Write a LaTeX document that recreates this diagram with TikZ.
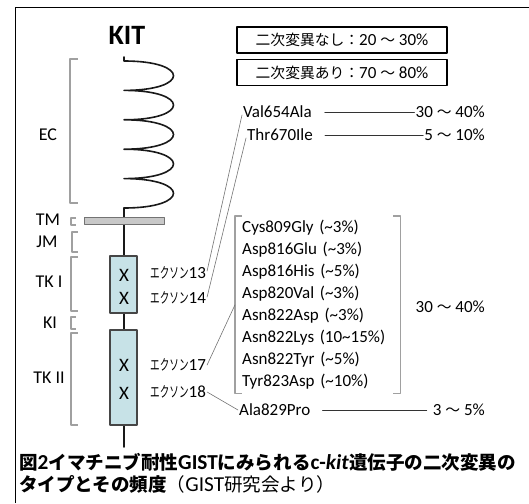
\documentclass[tikz,border=0pt]{standalone}
\usepackage{fontspec}
\setmainfont{Carlito}
\newfontfamily\jp{Noto Sans CJK JP}[Scale=0.87]
\usepackage{tikz}
\usetikzlibrary{positioning}
\definecolor{tk_blue}{RGB}{199,226,231}
\definecolor{tk_edge}{RGB}{70,70,70}
\definecolor{tm_gray}{RGB}{200,200,200}
\definecolor{bracket_gray}{RGB}{160,160,160}
\definecolor{lead_gray}{RGB}{115,115,115}
\newcommand{\wave}{{\jp ～}}
\newcommand{\exon}[1]{{\jp\scalebox{0.65}[1]{エクソン}}#1}
\tikzset{my_figure/.style={x=1pt,y=-1pt,line join=round,line cap=round}}
\tikzset{my_chain/.style={draw=black!90,line width=1.6pt}}
\tikzset{my_label/.style={inner sep=1pt,font=\fontsize{17}{19}\selectfont}}
\tikzset{my_side/.style={inner sep=1pt,font=\fontsize{18}{19}\selectfont}}
\tikzset{my_domain/.style={draw=tk_edge,fill=tk_blue,line width=1.1pt,minimum width=27pt,inner sep=0pt}}
\tikzset{my_cross/.style={inner sep=0pt,font=\fontsize{19}{19}\selectfont}}
\tikzset{my_bracket/.style={draw=bracket_gray,line width=1.1pt,line cap=butt}}
\tikzset{my_lead/.style={draw=lead_gray,line width=0.6pt}}
\tikzset{my_rule/.style={draw=black!80,line width=0.9pt}}
\tikzset{my_total/.style={draw,line width=1.7pt,minimum width=210pt,minimum height=26pt,inner sep=2pt,font=\fontsize{17}{18}\selectfont}}

\begin{document}
\begin{tikzpicture}[my_figure]
    \useasboundingbox (0,0) rectangle (529,503);
    % frame
    \draw[line width=1.6pt,line cap=butt] (15.5,503) -- (15.5,7.5) -- (529,7.5);

    \node[font=\fontsize{28}{28}\selectfont\bfseries] (kit) at (127,35) {KIT};

    % receptor chain: coil, then straight tail
    \coordinate (coil_top) at (124,57);
    \coordinate (neck) at (124,208);
    \coordinate (tail) at (124,447);
    \draw[my_chain] (coil_top) -- (124,61)
        .. controls (190,61) and (190,90.4) .. (124,90.4)
        .. controls (190,90.4) and (190,119.8) .. (124,119.8)
        .. controls (190,119.8) and (190,149.2) .. (124,149.2)
        .. controls (190,149.2) and (190,178.6) .. (124,178.6)
        .. controls (190,178.6) and (190,208) .. (neck);
    \draw[my_chain] (neck) -- (tail);

    \node[draw=black!55,fill=tm_gray,line width=0.8pt,minimum width=80pt,minimum height=7pt,inner sep=0pt] (tm_bar) at (124.5,221) {};
    \node[my_domain,minimum height=57pt] (tk1) at (123.5,284.5) {};
    \node[my_domain,minimum height=95pt] (tk2) at (123.5,377.5) {};
    \node[my_cross] (x1) at (124,275) {X};
    \node[my_cross] (x2) at (124,298) {X};
    \node[my_cross] (x3) at (124,365) {X};
    \node[my_cross] (x4) at (124,393) {X};

    % domain names and brackets
    \node[my_side] (ec) at (48,135) {EC};
    \node[my_side] (tm) at (48,220) {TM};
    \node[my_side] (jm) at (47,242) {JM};
    \node[my_side] (tk1_lbl) at (49,282) {TK I};
    \node[my_side] (ki) at (50,323) {KI};
    \node[my_side] (tk2_lbl) at (49,378) {TK II};
    \path[my_bracket]
        (78,59) -| (70,203) -- (78,203)
        (76,218) -| (71,225) -- (76,225)
        (78,232) -| (72,252) -- (78,252)
        (78,257) -| (71,311) -- (78,311)
        (76,317) -| (71,329) -- (76,329)
        (78,333) -| (71,425) -- (78,425)
    ;

    % exon labels
    \node[my_label,anchor=west] (ex13) at (149,273) {\exon{13}};
    \node[my_label,anchor=west] (ex14) at (149,298) {\exon{14}};
    \node[my_label,anchor=west] (ex17) at (149,365) {\exon{17}};
    \node[my_label,anchor=west] (ex18) at (149,392) {\exon{18}};

    % overall rates
    \node[my_total] (none) at (342,40) {{\jp 二次変異なし：}20 \wave{} 30\%};
    \node[my_total] (some) at (342,72.5) {{\jp 二次変異あり：}70 \wave{} 80\%};

    % mutations
    \node[my_label,anchor=west] (val) at (242,112) {Val654Ala};
    \node[my_label,anchor=east] (val_pct) at (486,112) {30 \wave{} 40\%};
    \node[my_label,anchor=west] (thr) at (246,135) {Thr670Ile};
    \node[my_label,anchor=east] (thr_pct) at (486,135) {5 \wave{} 10\%};
    \node[my_label,anchor=north west,text width=151pt,align=left,inner xsep=7pt,inner ysep=4pt,font=\fontsize{17}{22}\selectfont] (list) at (235,216) {%
        Cys809Gly (\textasciitilde3\%)\\
        Asp816Glu (\textasciitilde3\%)\\
        Asp816His (\textasciitilde5\%)\\
        Asp820Val (\textasciitilde3\%)\\
        Asn822Asp (\textasciitilde3\%)\\
        Asn822Lys (10\textasciitilde15\%)\\
        Asn822Tyr (\textasciitilde5\%)\\
        Tyr823Asp (\textasciitilde10\%)};
    \node[my_label,anchor=east] (list_pct) at (486,307) {30 \wave{} 40\%};
    \node[my_label,anchor=west] (ala) at (238,410) {Ala829Pro};
    \node[my_label,anchor=east] (ala_pct) at (486,410) {3 \wave{} 5\%};

    \path[my_bracket]
        ([xshift=7pt]list.north west) -- (list.north west) -- (list.south west) -- ([xshift=7pt]list.south west)
        ([xshift=-7pt]list.north east) -- (list.north east) -- (list.south east) -- ([xshift=-7pt]list.south east)
    ;

    \path[my_lead]
        ([yshift=2pt]ex13.east) edge ([yshift=-3pt]val.west)
        ([yshift=1pt]ex14.east) edge ([yshift=-3pt]thr.west)
        (ex17.east) edge (list.west)
        (ex18.east) edge (ala.west)
    ;
    \path[my_rule]
        (val) edge[shorten <=12pt] (val_pct)
        (thr) edge[shorten <=11pt] (thr_pct)
        (ala) edge[shorten <=11pt, shorten >=5pt] (ala_pct)
    ;

    \node[anchor=north west,align=left,inner sep=0pt,font=\fontsize{21.3}{22}\selectfont] (caption) at (19,453) {%
        \bfseries{\jp 図}2{\jp イマチニブ耐性}GIST{\jp にみられる}c-\textit{kit}{\jp 遺伝子の二次変異の}\\
        {\bfseries\jp タイプとその頻度}{\mdseries\jp （}{\mdseries GIST}{\mdseries\jp 研究会より）}};
\end{tikzpicture}
\end{document}
